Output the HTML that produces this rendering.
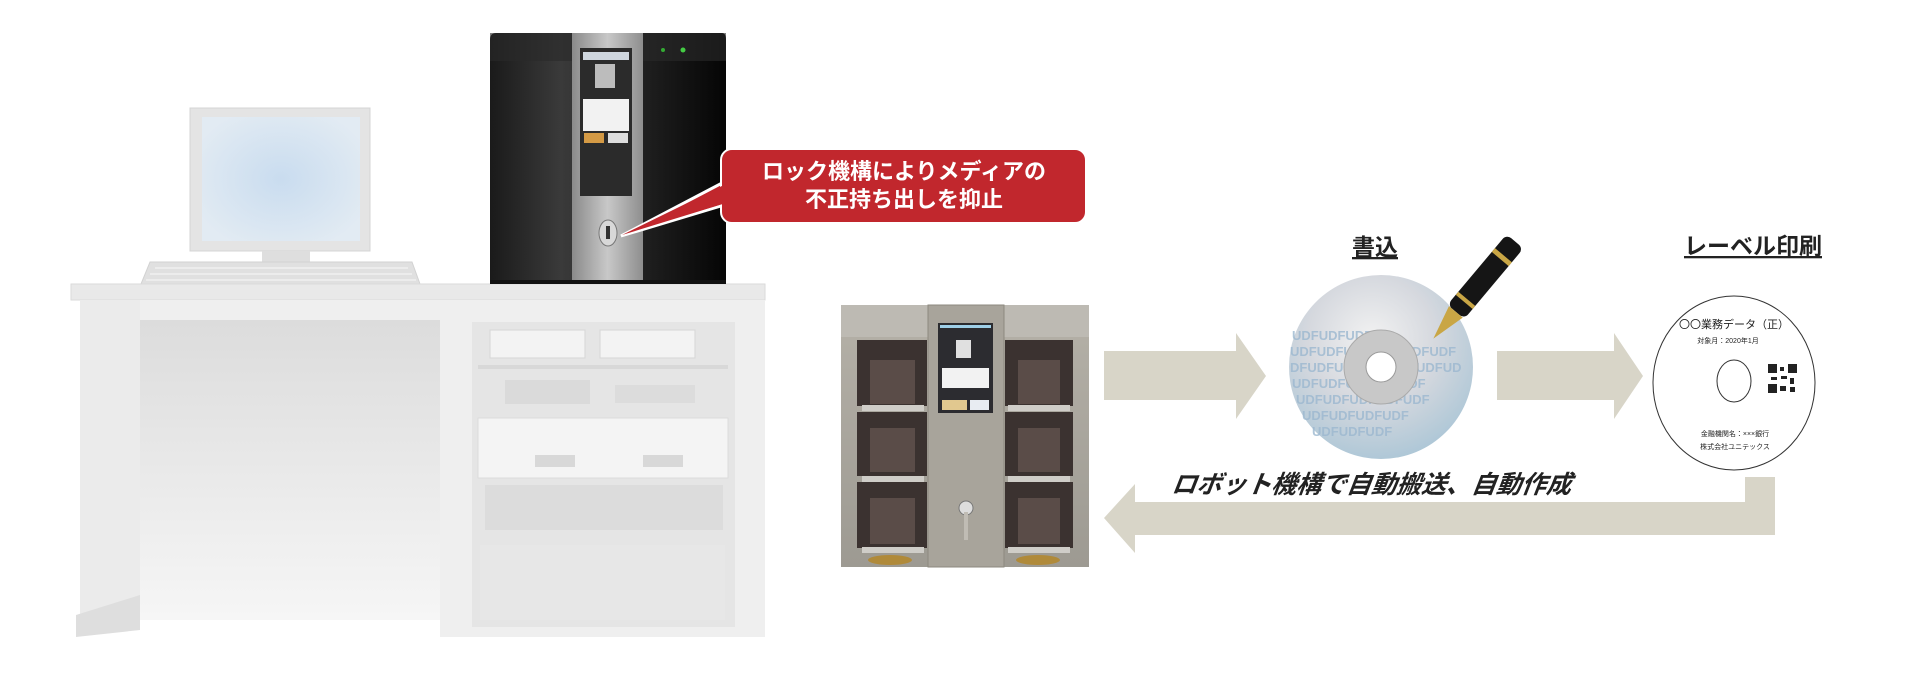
<!DOCTYPE html>
<html><head><meta charset="utf-8"><style>
html,body{margin:0;padding:0;background:#fff;}
svg{display:block;}
text{font-family:"Liberation Sans","Noto Sans CJK JP",sans-serif;}
</style></head><body>
<svg width="1920" height="682" viewBox="0 0 1920 682" xmlns="http://www.w3.org/2000/svg">
<defs>
<linearGradient id="silver" x1="0" x2="1" y1="0" y2="0">
<stop offset="0" stop-color="#8a8a8a"/><stop offset="0.5" stop-color="#c8c8c8"/><stop offset="1" stop-color="#8e8e8e"/></linearGradient>
<linearGradient id="blk" x1="0" x2="1"><stop offset="0" stop-color="#1a1a1a"/><stop offset="0.3" stop-color="#3a3a3a"/><stop offset="1" stop-color="#050505"/></linearGradient>
<linearGradient id="deskgap" x1="0" y1="0" x2="0" y2="1"><stop offset="0" stop-color="#dcdcdc"/><stop offset="1" stop-color="#f6f6f6"/></linearGradient>
<radialGradient id="mon" cx="0.5" cy="0.5" r="0.6"><stop offset="0" stop-color="#c9dcef"/><stop offset="1" stop-color="#e2ebf3"/></radialGradient>
<radialGradient id="cd" cx="0.45" cy="0.35" r="0.7"><stop offset="0" stop-color="#f2f2f2"/><stop offset="0.5" stop-color="#d5d8de"/><stop offset="1" stop-color="#a9c5d6"/></radialGradient>
<linearGradient id="robo" x1="0" x2="0" y1="0" y2="1"><stop offset="0" stop-color="#b5b1a8"/><stop offset="1" stop-color="#9d9a92"/></linearGradient>
</defs>

<rect x="190" y="108" width="180" height="143" fill="#e4e4e4" stroke="#d4d4d4"/>
<rect x="202" y="117" width="158" height="124" fill="url(#mon)"/>
<rect x="262" y="251" width="48" height="12" fill="#dedede"/>
<path d="M150 262 L412 262 L420 284 L141 284 Z" fill="#e0e0e0" stroke="#d2d2d2"/>
<g stroke="#ececec" stroke-width="2">
<line x1="155" y1="268" x2="408" y2="268"/><line x1="150" y1="274" x2="412" y2="274"/><line x1="146" y1="280" x2="416" y2="280"/></g>

<rect x="71" y="284" width="694" height="16" fill="#e9e9e9" stroke="#dadada"/>
<rect x="80" y="300" width="360" height="20" fill="#efefef"/>
<rect x="80" y="300" width="60" height="320" fill="#ebebeb"/>
<rect x="140" y="320" width="300" height="300" fill="url(#deskgap)"/>
<path d="M76 615 L140 595 L140 630 L76 637 Z" fill="#dedede"/>
<rect x="440" y="300" width="325" height="337" fill="#efefef"/>
<rect x="472" y="322" width="263" height="305" fill="#e5e5e5"/>
<rect x="490" y="330" width="95" height="28" fill="#f3f3f3" stroke="#d6d6d6"/>
<rect x="600" y="330" width="95" height="28" fill="#f3f3f3" stroke="#d6d6d6"/>
<rect x="478" y="365" width="250" height="4" fill="#d8d8d8"/>
<rect x="505" y="380" width="85" height="24" fill="#dadada"/>
<rect x="615" y="385" width="80" height="18" fill="#dcdcdc"/>
<rect x="478" y="418" width="250" height="60" fill="#f4f4f4" stroke="#dcdcdc"/>
<rect x="535" y="455" width="40" height="12" fill="#d8d8d8"/><rect x="643" y="455" width="40" height="12" fill="#d8d8d8"/>
<rect x="485" y="485" width="238" height="45" fill="#dcdcdc"/>
<rect x="480" y="545" width="245" height="75" fill="#e7e7e7"/>

<path d="M496 33 L722 33 Q726 33 726 40 L726 280 L490 280 L490 40 Q490 33 496 33 Z" fill="url(#blk)"/>
<rect x="490" y="33" width="236" height="28" fill="#2a2a2a" opacity="0.6"/>
<rect x="572" y="33" width="71" height="248" fill="url(#silver)"/>
<rect x="580" y="48" width="52" height="148" fill="#2b2b2b"/>
<rect x="583" y="52" width="46" height="8" fill="#cfd6de"/>
<rect x="595" y="64" width="20" height="24" fill="#bcbcbc"/>
<rect x="583" y="99" width="46" height="32" fill="#f2f2f2"/>
<rect x="584" y="133" width="20" height="10" fill="#d49a45"/><rect x="608" y="133" width="20" height="10" fill="#dddddd"/>
<ellipse cx="608" cy="233" rx="9" ry="13" fill="#d8d8d8" stroke="#777"/>
<rect x="606" y="226" width="4" height="13" fill="#333"/>
<circle cx="663" cy="50" r="2" fill="#3a3"/><circle cx="683" cy="50" r="2.5" fill="#4c4"/>
<rect x="490" y="280" width="236" height="4" fill="#111"/>

<path d="M621 236 L724 182 L724 205 Z" fill="#c1272d" stroke="#fff" stroke-width="3"/>
<rect x="721" y="149" width="365" height="74" rx="11" fill="#c1272d" stroke="#fff" stroke-width="2"/>
<path d="M622 235 L726 184 L726 203 Z" fill="#c1272d"/>
<text x="904" y="179" text-anchor="middle" font-size="22" font-weight="bold" fill="#fff">ロック機構によりメディアの</text>
<text x="904" y="207" text-anchor="middle" font-size="22" font-weight="bold" fill="#fff">不正持ち出しを抑止</text>

<rect x="841" y="305" width="248" height="262" fill="url(#robo)"/>
<rect x="841" y="305" width="248" height="32" fill="#bdbab3"/>
<g fill="#3b3230">
<rect x="857" y="340" width="70" height="66"/><rect x="857" y="412" width="70" height="64"/><rect x="857" y="482" width="70" height="66"/>
<rect x="1005" y="340" width="68" height="66"/><rect x="1005" y="412" width="68" height="64"/><rect x="1005" y="482" width="68" height="66"/></g>
<g fill="#5a4c48">
<rect x="870" y="360" width="45" height="44"/><rect x="870" y="428" width="45" height="44"/><rect x="870" y="498" width="45" height="46"/>
<rect x="1018" y="360" width="42" height="44"/><rect x="1018" y="428" width="42" height="44"/><rect x="1018" y="498" width="42" height="46"/></g>
<g fill="#cfcdc8">
<rect x="862" y="405" width="62" height="6"/><rect x="862" y="476" width="62" height="6"/><rect x="862" y="547" width="62" height="6"/>
<rect x="1008" y="405" width="62" height="6"/><rect x="1008" y="476" width="62" height="6"/><rect x="1008" y="547" width="62" height="6"/></g>
<rect x="928" y="305" width="76" height="262" fill="#a8a49b" stroke="#8d897f"/>
<rect x="938" y="323" width="55" height="90" fill="#2c2c30"/>
<rect x="940" y="325" width="51" height="3" fill="#9fd0e8"/>
<rect x="956" y="340" width="15" height="18" fill="#e0e0e0"/>
<rect x="942" y="368" width="47" height="20" fill="#f2f2f2"/>
<rect x="942" y="400" width="25" height="10" fill="#e1c88f"/><rect x="970" y="400" width="19" height="10" fill="#e8ecf2"/>
<circle cx="966" cy="508" r="7" fill="#ddd" stroke="#777"/><rect x="964" y="512" width="4" height="28" fill="#c0bcb4"/>
<ellipse cx="890" cy="560" rx="22" ry="5" fill="#b08a3a"/><ellipse cx="1038" cy="560" rx="22" ry="5" fill="#b08a3a"/>

<path d="M1104 351 L1236 351 L1236 333 L1266 376 L1236 419 L1236 400 L1104 400 Z" fill="#d8d5c8"/>
<path d="M1497 351 L1614 351 L1614 333 L1643 376 L1614 419 L1614 400 L1497 400 Z" fill="#d8d5c8"/>
<path d="M1745 477 L1775 477 L1775 535 L1135 535 L1135 553 L1104 518 L1135 484 L1135 502 L1745 502 Z" fill="#d8d5c8"/>

<circle cx="1381" cy="367" r="92" fill="url(#cd)"/>
<g font-size="13" font-weight="bold" fill="#9cb8d0" opacity="0.8" font-family="Liberation Sans,sans-serif">
<text x="1292" y="340">UDFUDFUDF</text><text x="1290" y="356">UDFUDFU</text><text x="1290" y="372">DFUDFU</text>
<text x="1292" y="388">UDFUDFUDFUDFUDF</text><text x="1296" y="404">UDFUDFUDFUDFUDF</text><text x="1302" y="420">UDFUDFUDFUDF</text><text x="1312" y="436">UDFUDFUDF</text>
<text x="1412" y="356">DFUDF</text><text x="1416" y="372">UDFUD</text></g>
<circle cx="1381" cy="367" r="37" fill="#c8c8c8" stroke="#aaa"/>
<circle cx="1381" cy="367" r="15" fill="#fff" stroke="#999"/>
<g transform="rotate(40 1470 295)">
<rect x="1459" y="225" width="22" height="92" rx="6" fill="#151515"/>
<rect x="1459" y="243" width="22" height="5" fill="#c9a645"/>
<rect x="1459" y="300" width="22" height="4" fill="#c9a645"/>
<path d="M1461 317 L1479 317 L1470 352 Z" fill="#c9a645"/>
</g>
<text x="1375" y="255" text-anchor="middle" font-size="23" font-weight="bold" fill="#222" text-decoration="underline">書込</text>

<ellipse cx="1734" cy="383" rx="81" ry="87" fill="#fff" stroke="#333" stroke-width="1"/>
<ellipse cx="1734" cy="381" rx="17" ry="21" fill="#fff" stroke="#333"/>
<text x="1734" y="328" text-anchor="middle" font-size="11" fill="#222" font-family="Liberation Serif,Noto Serif CJK SC,serif">〇〇業務データ（正）</text>
<text x="1728" y="343" text-anchor="middle" font-size="7" fill="#222">対象月：2020年1月</text>
<text x="1735" y="436" text-anchor="middle" font-size="7" fill="#222">金融機関名：×××銀行</text>
<text x="1735" y="449" text-anchor="middle" font-size="7" fill="#222">株式会社ユニテックス</text>
<g fill="#222">
<rect x="1768" y="364" width="9" height="9"/><rect x="1788" y="364" width="9" height="9"/><rect x="1768" y="384" width="9" height="9"/>
<rect x="1780" y="367" width="4" height="4"/><rect x="1781" y="376" width="6" height="3"/><rect x="1790" y="378" width="4" height="6"/><rect x="1780" y="386" width="6" height="5"/><rect x="1790" y="387" width="5" height="5"/><rect x="1771" y="377" width="6" height="3"/></g>
<text x="1753" y="254" text-anchor="middle" font-size="23" font-weight="bold" fill="#222" text-decoration="underline">レーベル印刷</text>

<text x="1172" y="493" font-size="25" font-weight="bold" font-style="italic" fill="#222" transform="skewX(-8) translate(68 0)">ロボット機構で自動搬送、自動作成</text>
</svg>
</body></html>
